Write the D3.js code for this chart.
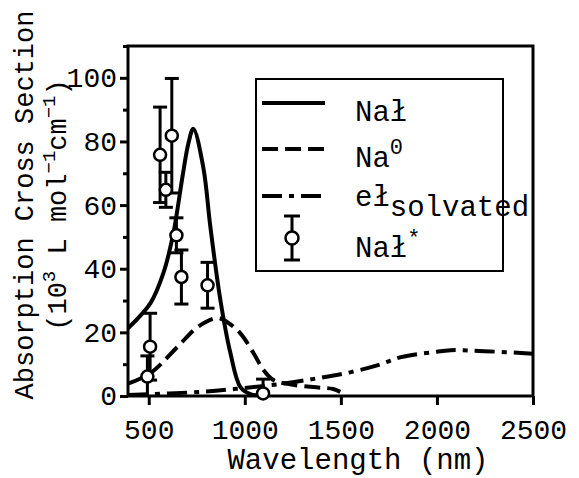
<!DOCTYPE html>
<html>
<head>
<meta charset="UTF-8">
<title>Absorption Cross Section</title>
<script src="https://d3js.org/d3.v7.min.js"></script>
<style>
  body { margin: 0; background: #ffffff; }
  text { font-family: "Liberation Mono", "Courier New", monospace; fill: #000; }
</style>
</head>
<body>
<svg id="mainsvg" width="579" height="478"></svg>
<script>
// ---- data ----
// Na- (solid)
const anionWl  = [392, 509, 576, 628, 675, 706, 732, 784, 821, 873, 925, 977, 1029, 1100];
const anionAbs = [21.3, 29.2, 38.6, 51.1, 68.7, 79.3, 84.0, 71.8, 53.0, 30.1, 13.5, 2.8, 0.6, 0.0];
// Na0 (dashed)
const atomWl  = [392, 509, 649, 753, 857, 909, 977, 1045, 1097, 1149, 1221, 1356, 1460, 1497];
const atomAbs = [3.9, 7.2, 15.4, 21.6, 24.5, 23.2, 19.7, 13.5, 8.2, 5.0, 3.8, 2.8, 2.2, 1.3];
// solvated electron (dash-dot)
const elecWl  = [392, 770, 995, 1188, 1380, 1552, 1693, 1813, 1984, 2073, 2245, 2500];
const elecAbs = [0.3, 1.3, 2.5, 3.8, 5.6, 7.5, 9.7, 12.2, 13.8, 14.4, 14.1, 13.3];
// Na-* measured points with error bars
const starWl  = [493, 507, 559, 589, 620, 644, 670, 806, 1095];
const starAbs = [6.1, 15.5, 75.8, 64.8, 81.8, 50.5, 37.4, 34.8, 0.8];
const starErr = [6.5, 10.5, 15, 5.5, 18, 5.5, 8.5, 7.2, 4.5];

const xTicks = [500, 1000, 1500, 2000, 2500];
const yMajor = [0, 20, 40, 60, 80, 100];
const yMinor = [10, 30, 50, 70, 90, 110];

const svg = d3.select('#mainsvg');
svg.append('rect').attr('width', 579).attr('height', 478).attr('fill', '#fff');

const x = d3.scaleLinear().domain([392, 2500]).range([128, 533]);
const y = d3.scaleLinear().domain([0, 110]).range([396, 46]);

// clip curves to the frame
svg.append('clipPath').attr('id', 'plotClip')
  .append('rect').attr('x', 128).attr('y', 46).attr('width', 405).attr('height', 350);

const line = d3.line().curve(d3.curveCatmullRom.alpha(0.5))
  .x(d => x(d[0])).y(d => y(d[1]));

const series = [
  {wl: anionWl, v: anionAbs, dash: null},
  {wl: atomWl, v: atomAbs, dash: '16,7'},
  {wl: elecWl, v: elecAbs, dash: '20,7,5,7'}
];
const plot = svg.append('g').attr('clip-path', 'url(#plotClip)');
series.forEach(s => {
  plot.append('path')
    .datum(s.wl.map((w, i) => [w, s.v[i]]))
    .attr('d', line)
    .attr('fill', 'none')
    .attr('stroke', '#000')
    .attr('stroke-width', 4)
    .attr('stroke-dasharray', s.dash);
});

// axes
const xAxis = d3.axisBottom(x).tickValues(xTicks).tickFormat(d3.format('d'))
  .tickSize(9).tickPadding(14).tickSizeOuter(0);
const gx = svg.append('g').attr('transform', 'translate(0,396)').call(xAxis);
gx.select('.domain').remove();
gx.selectAll('line').attr('stroke-width', 3);
gx.selectAll('text').attr('font-size', 28);

const yAxis = d3.axisLeft(y).tickValues(yMajor).tickFormat(d3.format('d'))
  .tickSize(8).tickPadding(3).tickSizeOuter(0);
const gy = svg.append('g').attr('transform', 'translate(128,0)').call(yAxis);
gy.select('.domain').remove();
gy.selectAll('line').attr('stroke-width', 3);
gy.selectAll('text').attr('font-size', 28);

const yAxisMinor = d3.axisLeft(y).tickValues(yMinor).tickSize(5).tickFormat('').tickSizeOuter(0);
const gym = svg.append('g').attr('transform', 'translate(128,0)').call(yAxisMinor);
gym.select('.domain').remove();
gym.selectAll('line').attr('stroke-width', 3);

// frame
svg.append('rect')
  .attr('x', x.range()[0]).attr('y', y.range()[1])
  .attr('width', x.range()[1] - x.range()[0])
  .attr('height', y.range()[0] - y.range()[1])
  .attr('fill', 'none').attr('stroke', '#000').attr('stroke-width', 3);

// error bars + circles
const pts = starWl.map((w, i) => ({w, v: starAbs[i], e: starErr[i]}));
const eb = svg.append('g');
pts.forEach(p => {
  const cx = x(p.w);
  eb.append('line').attr('x1', cx).attr('x2', cx)
    .attr('y1', y(p.v + p.e)).attr('y2', y(Math.max(p.v - p.e, 0)))
    .attr('stroke', '#000').attr('stroke-width', 3);
  [p.v + p.e, p.v - p.e].forEach(c => {
    if (c < 0) return;
    eb.append('line').attr('x1', cx - 7).attr('x2', cx + 7)
      .attr('y1', y(c)).attr('y2', y(c))
      .attr('stroke', '#000').attr('stroke-width', 3);
  });
});
pts.forEach(p => {
  eb.append('circle').attr('cx', x(p.w)).attr('cy', y(p.v)).attr('r', 6)
    .attr('fill', '#fff').attr('stroke', '#000').attr('stroke-width', 2.5);
});

// axis titles
svg.append('text')
  .attr('x', 358).attr('y', 469)
  .attr('text-anchor', 'middle').attr('font-size', 29)
  .text('Wavelength (nm)');

const yt = svg.append('g').attr('transform', 'translate(33,205) rotate(-90)');
yt.append('text').attr('text-anchor', 'middle').attr('font-size', 27)
  .text('Absorption Cross Section');
const yt2 = yt.append('text').attr('text-anchor', 'middle').attr('y', 33).attr('font-size', 27);
yt2.append('tspan').text('(10');
yt2.append('tspan').attr('font-size', 19).attr('dy', -11).text('3');
yt2.append('tspan').attr('dy', 11).text(' L mol');
yt2.append('tspan').attr('font-size', 19).attr('dy', -11).text('\u22121');
yt2.append('tspan').attr('dy', 11).text('cm');
yt2.append('tspan').attr('font-size', 19).attr('dy', -11).text('\u22121');
yt2.append('tspan').attr('dy', 11).text(')');

// legend
const lg = svg.append('g');
lg.append('rect').attr('x', 256).attr('y', 79).attr('width', 247).attr('height', 192)
  .attr('fill', '#fff').attr('stroke', '#000').attr('stroke-width', 2);
const rows = [103, 149, 196, 238];
series.forEach((s, i) => {
  lg.append('line').attr('x1', 262).attr('x2', 325).attr('y1', rows[i]).attr('y2', rows[i])
    .attr('stroke', '#000').attr('stroke-width', 4).attr('stroke-dasharray', s.dash);
});
lg.append('line').attr('x1', 292).attr('x2', 292).attr('y1', 216).attr('y2', 260)
  .attr('stroke', '#000').attr('stroke-width', 3);
[216, 260].forEach(c => lg.append('line').attr('x1', 284).attr('x2', 300)
  .attr('y1', c).attr('y2', c).attr('stroke', '#000').attr('stroke-width', 3));
lg.append('circle').attr('cx', 292).attr('cy', 238).attr('r', 6.5)
  .attr('fill', '#fff').attr('stroke', '#000').attr('stroke-width', 2.5);

const lfs = 29;
lg.append('text').attr('x', 355).attr('y', 121).attr('font-size', lfs).text('Na\u0142');
const t2 = lg.append('text').attr('x', 355).attr('y', 167).attr('font-size', lfs);
t2.append('tspan').text('Na');
t2.append('tspan').attr('font-size', 22).attr('dy', -13).text('0');
const t3 = lg.append('text').attr('x', 355).attr('y', 206).attr('font-size', lfs);
t3.append('tspan').text('e\u0142');
t3.append('tspan').attr('dy', 10).text('solvated');
const t4 = lg.append('text').attr('x', 355).attr('y', 257).attr('font-size', lfs);
t4.append('tspan').text('Na\u0142');
t4.append('tspan').attr('font-size', 22).attr('dy', -12).text('*');
</script>
</body>
</html>
